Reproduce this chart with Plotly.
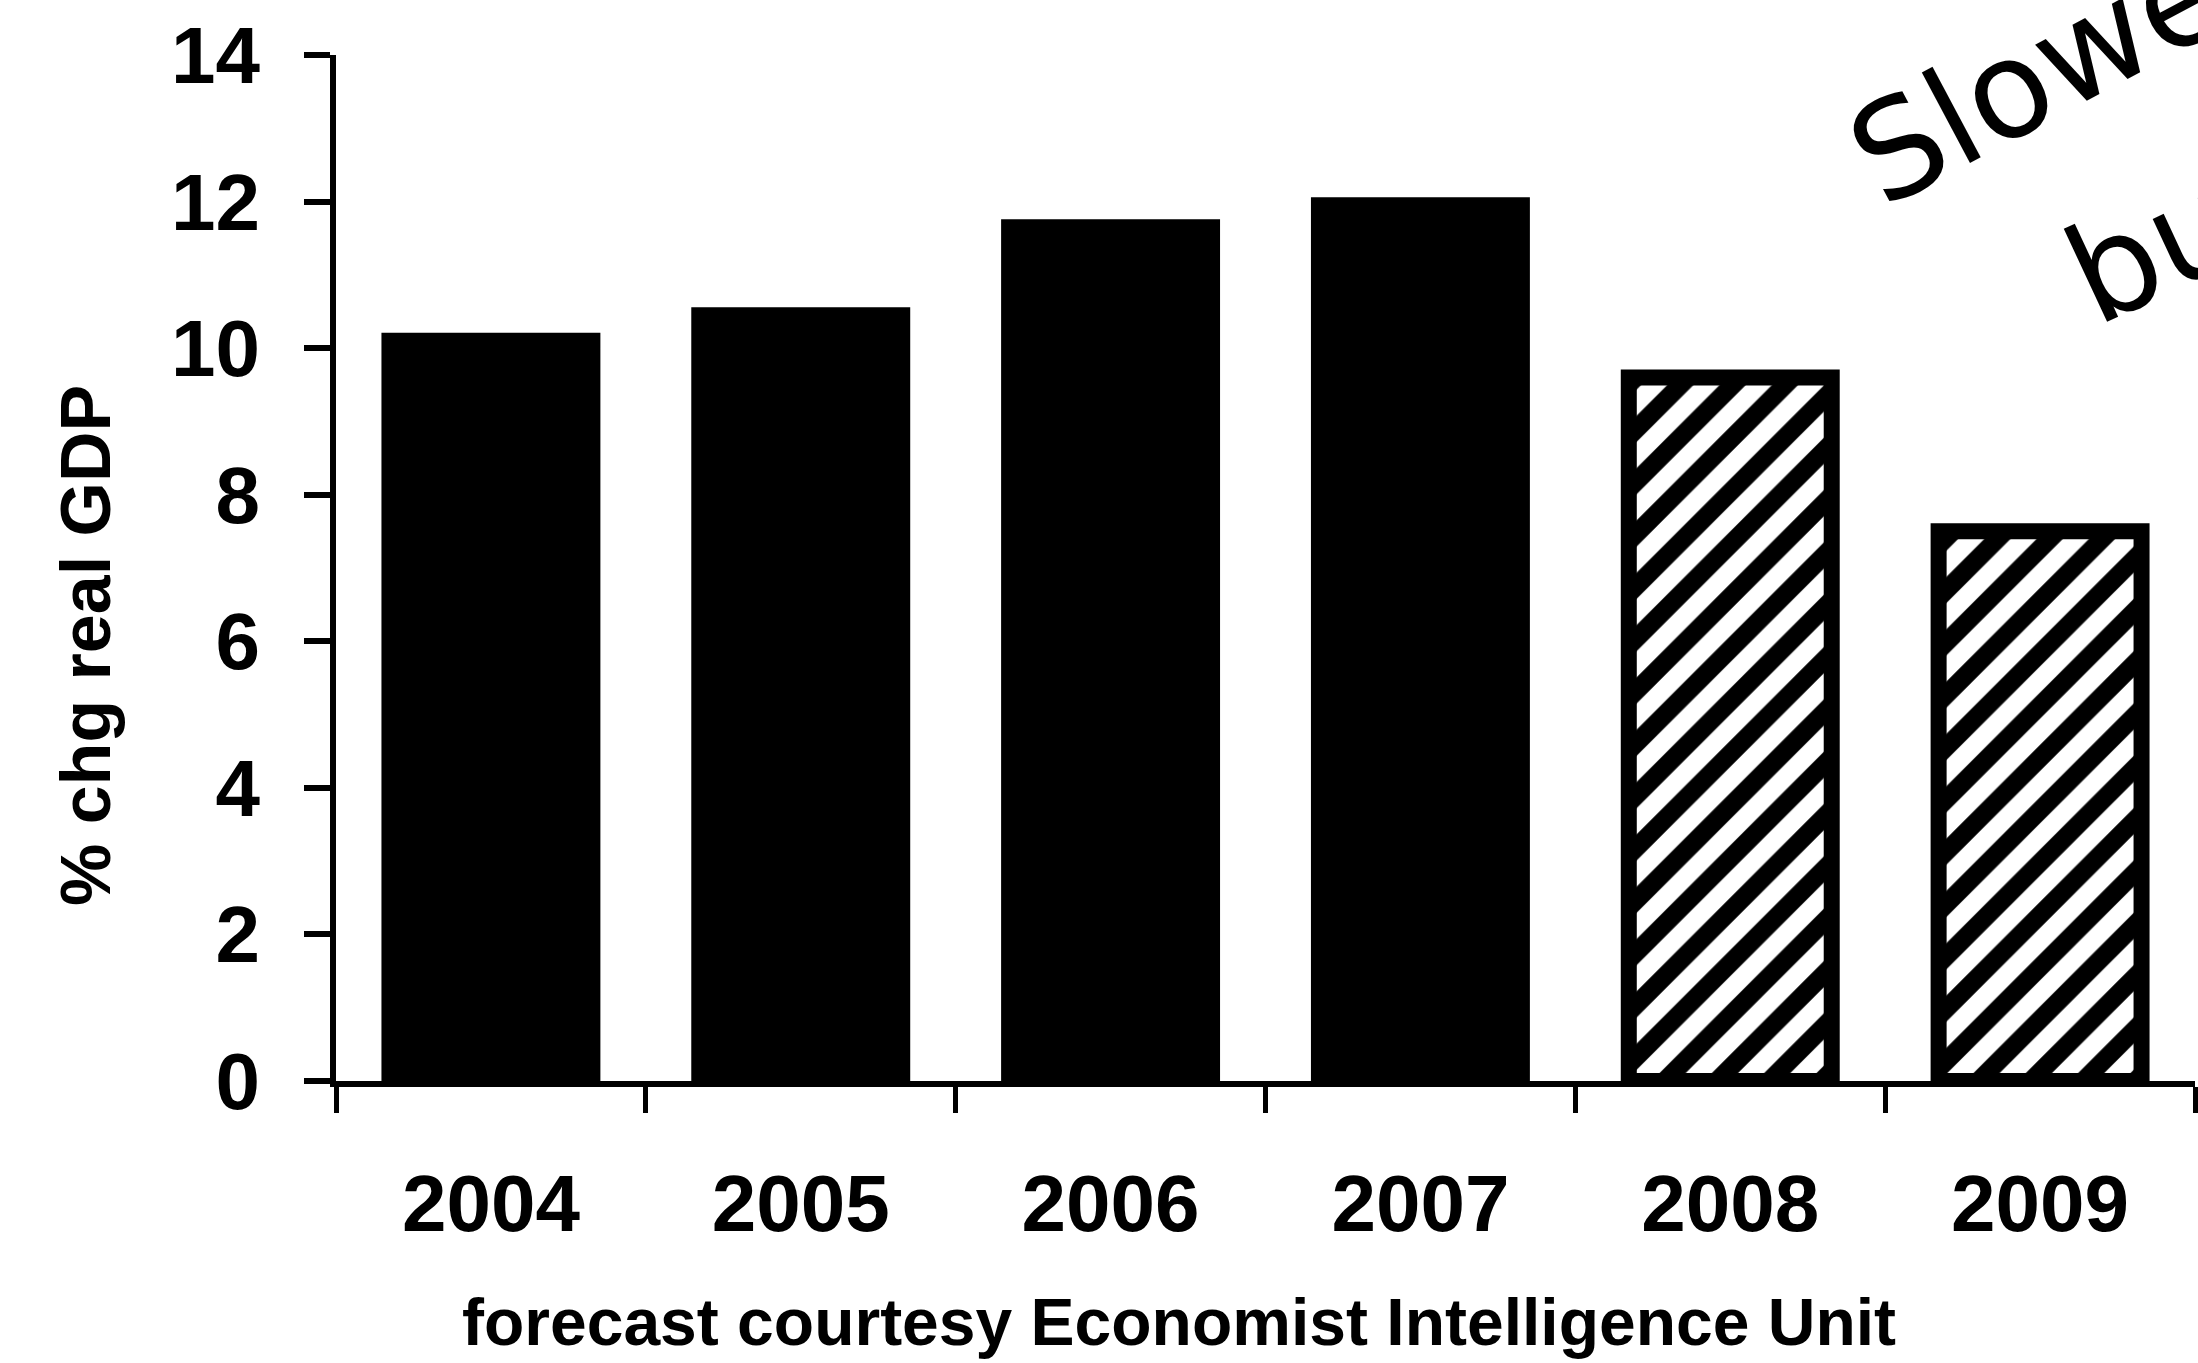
import plotly.graph_objects as go

# Real GDP growth, % change per year (2008-2009 are forecasts)
years = ["2004", "2005", "2006", "2007", "2008", "2009"]
gdp_growth = [10.1, 10.45, 11.65, 11.95, 9.6, 7.5]
is_forecast = [False, False, False, False, True, True]

y_ticks = [0, 2, 4, 6, 8, 10, 12, 14]

W, H = 2198, 1363
M_L, M_R, M_T, M_B = 336, 3, 55, 282
PLOT_W = W - M_L - M_R
PLOT_H = H - M_T - M_B


def px_x(px):
    return (px - M_L) / PLOT_W


def px_y(py):
    return (H - M_B - py) / PLOT_H


FONT = "Liberation Sans, Arial, sans-serif"
HAND = "DejaVu Sans, sans-serif"

actual_years = [y for y, f in zip(years, is_forecast) if not f]
actual_vals = [v for v, f in zip(gdp_growth, is_forecast) if not f]
fc_years = [y for y, f in zip(years, is_forecast) if f]
fc_vals = [v for v, f in zip(gdp_growth, is_forecast) if f]

BAR_W = 0.655
OUTLINE = dict(color="black", width=16)

fig = go.Figure()
# solid bars: recorded growth
fig.add_trace(
    go.Bar(
        x=actual_years,
        y=actual_vals,
        width=BAR_W,
        marker=dict(color="black", line=OUTLINE),
        hoverinfo="x+y",
        name="actual",
    )
)
# hatched bars: forecast growth
fig.add_trace(
    go.Bar(
        x=fc_years,
        y=fc_vals,
        width=BAR_W,
        marker=dict(
            color="white",
            line=OUTLINE,
            pattern=dict(
                shape="/",
                fillmode="overlay",
                fgcolor="black",
                fgopacity=1,
                size=37,
                solidity=0.5,
            ),
        ),
        hoverinfo="x+y",
        name="forecast",
    )
)

fig.update_layout(
    width=W,
    height=H,
    margin=dict(l=M_L, r=M_R, t=M_T, b=M_B, pad=0),
    paper_bgcolor="white",
    plot_bgcolor="white",
    showlegend=False,
    barmode="overlay",
    font=dict(family=FONT, color="black"),
)

fig.update_xaxes(
    type="category",
    categoryorder="array",
    categoryarray=years,
    range=[-0.5, 5.5],
    showline=True,
    linecolor="black",
    linewidth=6,
    ticks="outside",
    tickson="boundaries",
    ticklen=26,
    tickwidth=5,
    tickcolor="black",
    showgrid=False,
    zeroline=False,
    ticklabelstandoff=48,
    tickfont=dict(family=FONT, size=80, color="black", weight="bold"),
)

fig.update_yaxes(
    range=[0, 14],
    tickvals=y_ticks,
    ticktext=[str(v) for v in y_ticks],
    showline=True,
    linecolor="black",
    linewidth=6,
    ticks="outside",
    ticklen=26,
    tickwidth=6,
    tickcolor="black",
    showgrid=False,
    zeroline=False,
    ticklabelstandoff=28,
    tickfont=dict(family=FONT, size=80, color="black", weight="bold"),
)

annotations = [
    # vertical axis title
    dict(
        text="% chg real GDP",
        xref="paper", yref="paper",
        x=px_x(86), y=px_y(645),
        xanchor="center", yanchor="middle",
        textangle=-90,
        showarrow=False,
        font=dict(family=FONT, size=70, color="black", weight="bold"),
    ),
    # source note under the axis
    dict(
        text="forecast courtesy Economist Intelligence Unit",
        xref="paper", yref="paper",
        x=px_x(1179), y=px_y(1322),
        xanchor="center", yanchor="middle",
        showarrow=False,
        font=dict(family=FONT, size=66, color="black", weight="bold"),
    ),
    # handwritten remark in the corner
    dict(
        text="Slower",
        xref="paper", yref="paper",
        x=px_x(2062), y=px_y(62),
        xanchor="center", yanchor="middle",
        textangle=-28,
        showarrow=False,
        font=dict(family=HAND, size=135, color="black"),
    ),
    dict(
        text="but",
        xref="paper", yref="paper",
        x=px_x(2178), y=px_y(238),
        xanchor="center", yanchor="middle",
        textangle=-25,
        showarrow=False,
        font=dict(family=HAND, size=135, color="black"),
    ),
]
fig.update_layout(annotations=annotations)

fig.write_html("out.html")
